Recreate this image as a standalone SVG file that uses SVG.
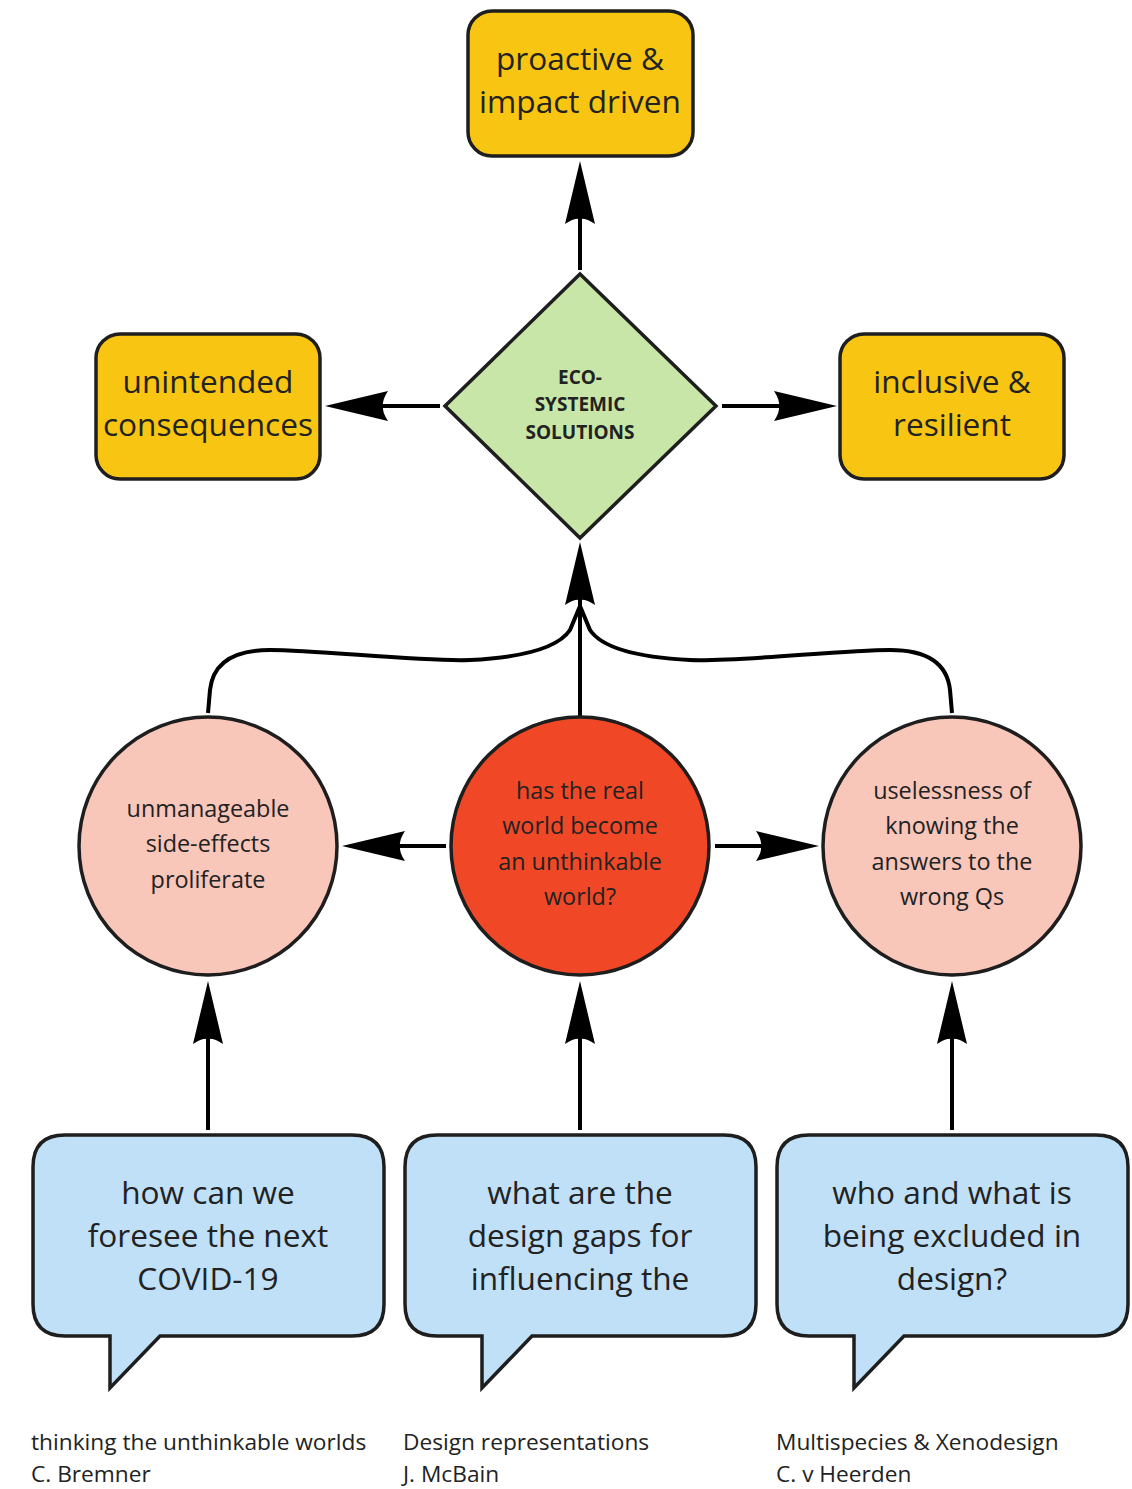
<svg xmlns="http://www.w3.org/2000/svg" width="1132" height="1489" viewBox="0 0 1132 1489">
<defs>
<marker id="ah" viewBox="-64 -16 66 32" refX="-57" refY="0" markerWidth="66" markerHeight="32" markerUnits="userSpaceOnUse" orient="auto">
<path d="M0,0 L-63,-15 Q-57,-6 -58,0 Q-57,6 -63,15 Z" fill="#000"/>
</marker>
<style>
.box{fill:#f8c612;stroke:#1e1e1e;stroke-width:3.5}
.dia{fill:#c8e6a8;stroke:#1e1e1e;stroke-width:3.5}
.cl{fill:#f9c6ba;stroke:#1e1e1e;stroke-width:3.5}
.cm{fill:#f04827;stroke:#1e1e1e;stroke-width:3.5}
.bub{fill:#c0e0f8;stroke:#1e1e1e;stroke-width:3.5;stroke-linejoin:miter}
.t{font-family:"Open Sans","Noto Sans",sans-serif;fill:#222;text-anchor:middle}
.t30{font-size:31.6px}
.t22{font-size:23.4px}
.tb{font-size:19px;font-weight:bold}
.ft{font-family:"Open Sans","Noto Sans",sans-serif;fill:#222;font-size:22.7px}
.ln{stroke:#000;stroke-width:4;fill:none}
.ar{marker-end:url(#ah)}
</style>
</defs>
<g id="connectors">
<line class="ln ar" x1="580" y1="270" x2="580" y2="218"/>
<line class="ln ar" x1="440" y1="406" x2="382" y2="406"/>
<line class="ln ar" x1="722" y1="406" x2="780" y2="406"/>
<line class="ln ar" x1="580" y1="717" x2="580" y2="599"/>
<path class="ln" d="M208,713 L210,690 C213,662 235,650 270,650 C320,650 420,662 470,660 C530,657 560,645 570,630 L580,606"/>
<path class="ln" d="M952,713 L950,690 C947,662 925,650 890,650 C840,650 740,662 690,660 C630,657 600,645 590,630 L580,606"/>
<line class="ln ar" x1="446" y1="846" x2="399" y2="846"/>
<line class="ln ar" x1="715" y1="846" x2="762" y2="846"/>
<line class="ln ar" x1="208" y1="1130" x2="208" y2="1038"/>
<line class="ln ar" x1="580" y1="1130" x2="580" y2="1038"/>
<line class="ln ar" x1="952" y1="1130" x2="952" y2="1038"/>
</g>
<g id="proactive">
<rect class="box" x="468" y="11" width="225" height="145" rx="24"/>
<text class="t t30" x="580" y="70">proactive &amp;</text>
<text class="t t30" x="580" y="113">impact driven</text>
</g>
<g id="unintended">
<rect class="box" x="96" y="334" width="224" height="145" rx="24"/>
<text class="t t30" x="208" y="393">unintended</text>
<text class="t t30" x="208" y="436">consequences</text>
</g>
<g id="inclusive">
<rect class="box" x="840" y="334" width="224" height="145" rx="24"/>
<text class="t t30" x="952" y="393">inclusive &amp;</text>
<text class="t t30" x="952" y="436">resilient</text>
</g>
<g id="eco">
<polygon class="dia" points="580,274 716,406 580,538 445,406"/>
<text class="t tb" x="580" y="384">ECO-</text>
<text class="t tb" x="580" y="411">SYSTEMIC</text>
<text class="t tb" x="580" y="439">SOLUTIONS</text>
</g>
<g id="side-effects">
<circle class="cl" cx="208" cy="846" r="129"/>
<text class="t t22" x="208" y="817">unmanageable</text>
<text class="t t22" x="208" y="852">side-effects</text>
<text class="t t22" x="208" y="888">proliferate</text>
</g>
<g id="real-world">
<circle class="cm" cx="580" cy="846" r="129"/>
<text class="t t22" x="580" y="799">has the real</text>
<text class="t t22" x="580" y="834">world become</text>
<text class="t t22" x="580" y="870">an unthinkable</text>
<text class="t t22" x="580" y="905">world?</text>
</g>
<g id="uselessness">
<circle class="cl" cx="952" cy="846" r="129"/>
<text class="t t22" x="952" y="799">uselessness of</text>
<text class="t t22" x="952" y="834">knowing the</text>
<text class="t t22" x="952" y="870">answers to the</text>
<text class="t t22" x="952" y="905">wrong Qs</text>
</g>
<g id="bubble-covid">
<path class="bub" d="M65,1135 H352 Q384,1135 384,1167 V1304 Q384,1336 352,1336 H160 L110,1388 V1336 H65 Q33,1336 33,1304 V1167 Q33,1135 65,1135 Z"/>
<text class="t t30" x="208" y="1204">how can we</text>
<text class="t t30" x="208" y="1247">foresee the next</text>
<text class="t t30" x="208" y="1290">COVID-19</text>
</g>
<g id="bubble-design">
<path class="bub" d="M437,1135 H724 Q756,1135 756,1167 V1304 Q756,1336 724,1336 H532 L482,1388 V1336 H437 Q405,1336 405,1304 V1167 Q405,1135 437,1135 Z"/>
<text class="t t30" x="580" y="1204">what are the</text>
<text class="t t30" x="580" y="1247">design gaps for</text>
<text class="t t30" x="580" y="1290">influencing the</text>
</g>
<g id="bubble-excluded">
<path class="bub" d="M809,1135 H1096 Q1128,1135 1128,1167 V1304 Q1128,1336 1096,1336 H904 L854,1388 V1336 H809 Q777,1336 777,1304 V1167 Q777,1135 809,1135 Z"/>
<text class="t t30" x="952" y="1204">who and what is</text>
<text class="t t30" x="952" y="1247">being excluded in</text>
<text class="t t30" x="952" y="1290">design?</text>
</g>
<g id="credits">
<text class="ft" x="31" y="1450">thinking the unthinkable worlds</text>
<text class="ft" x="31" y="1482">C. Bremner</text>
<text class="ft" x="403" y="1450">Design representations</text>
<text class="ft" x="403" y="1482">J. McBain</text>
<text class="ft" x="776" y="1450">Multispecies &amp; Xenodesign</text>
<text class="ft" x="776" y="1482">C. v Heerden</text>
</g>
</svg>
